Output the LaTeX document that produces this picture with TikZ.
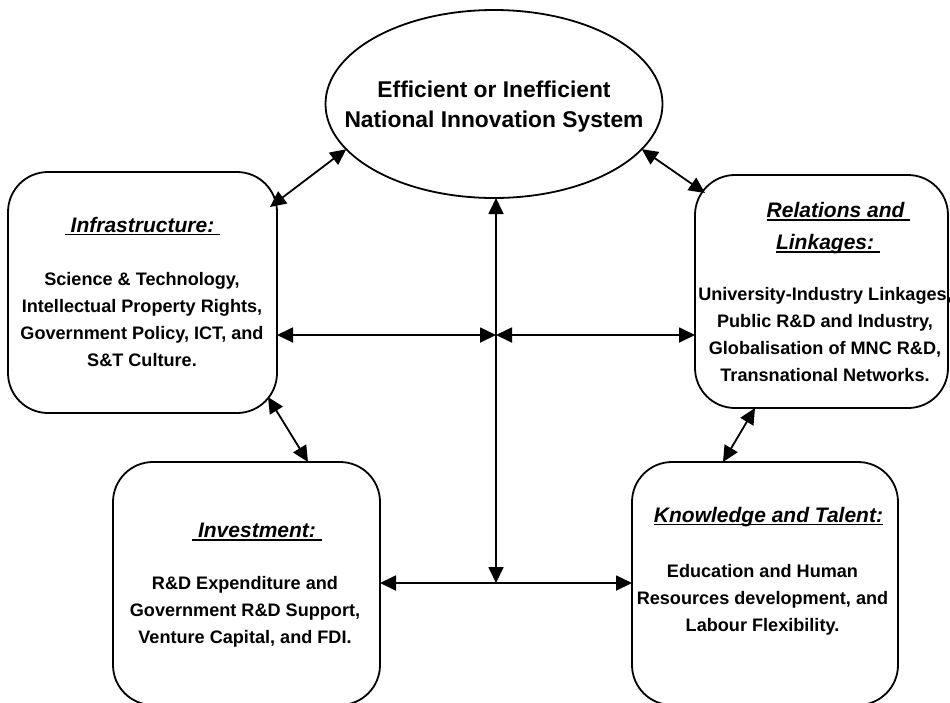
\documentclass[tikz,border=0pt]{standalone}
\usepackage{fontspec}
\setmainfont{Liberation Sans}
\usetikzlibrary{arrows.meta,shapes.geometric,calc}
\newcommand{\myul}[1]{\setbox0\hbox{#1}\rlap{\rule[-3pt]{\wd0}{1.5pt}}\box0}
\newcommand{\bodyfont}{\fontsize{18.1}{27}\selectfont\bfseries}
\newcommand{\titlefont}{\fontsize{21}{32}\selectfont\bfseries\itshape}
\newcommand{\ellfont}{\fontsize{22.8}{30}\selectfont\bfseries}
\newcommand{\mylines}[1]{\begin{tabular}[t]{@{}c@{}}#1\end{tabular}}
\begin{document}
\begin{tikzpicture}[x=1pt,y=-1pt,
  box/.style={draw, line width=1.8pt, rounded corners=40pt, inner sep=0pt, outer sep=0pt},
  conn/.style={line width=1.8pt, {Triangle[length=16pt,width=15pt]}-{Triangle[length=16pt,width=15pt]}},
  txt/.style={anchor=base, inner sep=0pt, outer sep=0pt}]
\useasboundingbox (0,0) rectangle (950,702);

% main ellipse
\node[draw, ellipse, line width=1.8pt, inner sep=0pt, outer sep=0pt,
      minimum width=337pt, minimum height=188pt] (nis) at (494,104) {};
\node[txt] (nistext) at (494,97) {\ellfont\mylines{Efficient or Inefficient\\National Innovation System}};

% boxes
\node[box, minimum width=269pt, minimum height=241pt] (infra) at (142.5,292.5) {};
\node[box, minimum width=253pt, minimum height=233pt] (rel) at (821.5,291.5) {};
\node[box, minimum width=267pt, minimum height=243pt] (inv) at (246.5,583.5) {};
\node[box, minimum width=266pt, minimum height=243pt] (know) at (765,583.5) {};

% texts
\node[txt] (infratitle) at (142.5,232) {\titlefont\myul{\ Infrastructure:\ }};
\node[txt] (infrabody) at (142,285) {\bodyfont\mylines{Science \& Technology,\\Intellectual Property Rights,\\Government Policy, ICT, and\\S\&T Culture.}};

\node[txt] (reltitlea) at (838.5,217.5) {\titlefont\myul{Relations and\ }};
\node[txt] (reltitleb) at (828,249.5) {\titlefont\myul{Linkages:\ }};
\node[txt] (relbody) at (825,300) {\bodyfont\mylines{University-Industry Linkages,\\Public R\&D and Industry,\\Globalisation of MNC R\&D,\\Transnational Networks.}};

\node[txt] (invtitle) at (257,537.5) {\titlefont\myul{\ Investment:\ }};
\node[txt] (invbody) at (245,589) {\bodyfont\mylines{R\&D Expenditure and\\Government R\&D Support,\\Venture Capital, and FDI.}};

\node[txt] (knowtitle) at (768.5,522) {\titlefont\myul{Knowledge and Talent:}};
\node[txt] (knowbody) at (762.5,577) {\bodyfont\mylines{Education and Human\\Resources development, and\\Labour Flexibility.}};

% hubs
\coordinate (hub) at (496,335);
\coordinate (hubb) at (496,583);

% connectors
\draw[conn] (nis.197) -- ([xshift=-7pt,yshift=-35pt]infra.north east);
\draw[conn] (nis.343) -- ([xshift=10pt,yshift=-18pt]rel.north west);
\draw[conn] ([xshift=-9pt,yshift=16pt]infra.south east) -- ([xshift=195pt]inv.north west);
\draw[conn] ([xshift=60pt]rel.south west) -- ([xshift=91pt]know.north west);
\draw[conn] (infra.east |- hub) -- (hub);
\draw[conn] (hub) -- (rel.west |- hub);
\draw[conn] (hubb |- nis.south) -- (hubb);
\draw[conn] (inv.east |- hubb) -- (know.west |- hubb);
\end{tikzpicture}
\end{document}
